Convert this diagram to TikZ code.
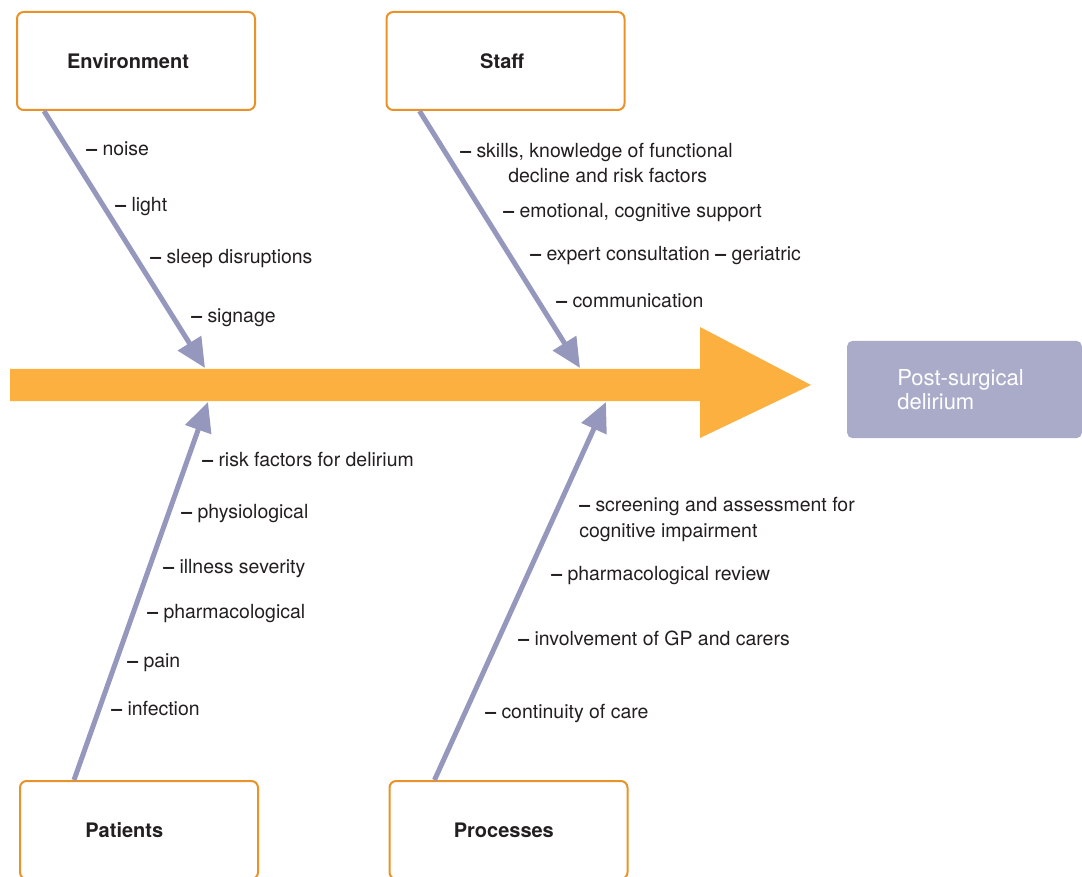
\documentclass[tikz,border=0pt]{standalone}
\usepackage{fontspec}
\setmainfont{TeX Gyre Heros}
\usetikzlibrary{arrows.meta}
\definecolor{boneblue}{RGB}{149,151,189}
\definecolor{boxorange}{RGB}{232,146,40}
\definecolor{spineorange}{RGB}{251,176,64}
\definecolor{effectfill}{RGB}{170,171,201}
\definecolor{inkgray}{RGB}{35,31,32}
\newcommand{\bdash}{{\bfseries\textendash}\ }

\begin{document}
\begin{tikzpicture}[x=0.75pt,y=-0.75pt,
    cause/.style ={rectangle, draw=boxorange, line width=1.5pt, rounded corners=5pt, minimum width=178.5pt, minimum height=73.5pt, text=inkgray, font=\fontsize{15}{18}\selectfont\bfseries},
    effect/.style ={rectangle, fill=effectfill, rounded corners=4pt, minimum width=176pt, minimum height=73pt, text=white, align=left, font=\fontsize{16.5}{18.5}\selectfont},
    item/.style ={anchor=base west, inner sep=0pt, text=inkgray, font=\fontsize{14.6}{18}\selectfont},
    bone/.style ={draw=boneblue, line width=3.75pt, -{Triangle[length=22pt,width=20pt]}}]
   \useasboundingbox (0,0) rectangle (1082,877);
   \fill[spineorange] (10,369) -- (700,369) -- (700,327) -- (811,385) -- (700,438) -- (700,401) -- (10,401) -- cycle;
   \coordinate (te) at (205,368);
   \coordinate (ts) at (580,368);
   \coordinate (tp) at (208,402);
   \coordinate (tr) at (606,402);
   \node[cause] (env) at (136,61) {Environment\hspace*{12pt}};
   \node[cause] (staff) at (505.5,61) {Staff\hspace*{5pt}};
   \node[cause] (pat) at (139,830) {Patients\hspace*{22pt}};
   \node[cause] (proc) at (508.5,830) {Processes\hspace*{7pt}};
   \node[effect] (delir) at (964.5,389.5) {Post-surgical\hspace*{6pt}\\delirium};
   \draw[bone] ([xshift=21pt]env.south west) to (te);
   \draw[bone] ([xshift=25.5pt]staff.south west) to (ts);
   \draw[bone] ([xshift=41.25pt]pat.north west) to (tp);
   \draw[bone] ([xshift=34.5pt]proc.north west) to (tr);
   \node[item] (e1) at (86,156) {\bdash noise};
   \node[item] (e2) at (115,212) {\bdash light};
   \node[item] (e3) at (150,264) {\bdash sleep disruptions};
   \node[item] (e4) at (191,323) {\bdash signage};
   \node[item] (s1) at (460,158) {\bdash skills, knowledge of functional};
   \node[item] (s1b) at (508,183) {decline and risk factors};
   \node[item] (s2) at (503,218) {\bdash emotional, cognitive support};
   \node[item] (s3) at (530,261) {\bdash expert consultation \bdash geriatric};
   \node[item] (s4) at (556,308) {\bdash communication};
   \node[item] (p1) at (202,466) {\bdash risk factors for delirium};
   \node[item] (p2) at (181,518) {\bdash physiological};
   \node[item] (p3) at (163,573) {\bdash illness severity};
   \node[item] (p4) at (147,618) {\bdash pharmacological};
   \node[item] (p5) at (127,667) {\bdash pain};
   \node[item] (p6) at (111,715) {\bdash infection};
   \node[item] (r1) at (579,511) {\bdash screening and assessment for};
   \node[item] (r1b) at (579,537) {cognitive impairment};
   \node[item] (r2) at (551,580) {\bdash pharmacological review};
   \node[item] (r3) at (518,645) {\bdash involvement of GP and carers};
   \node[item] (r4) at (485,718) {\bdash continuity of care};
 \end{tikzpicture}
\end{document}
